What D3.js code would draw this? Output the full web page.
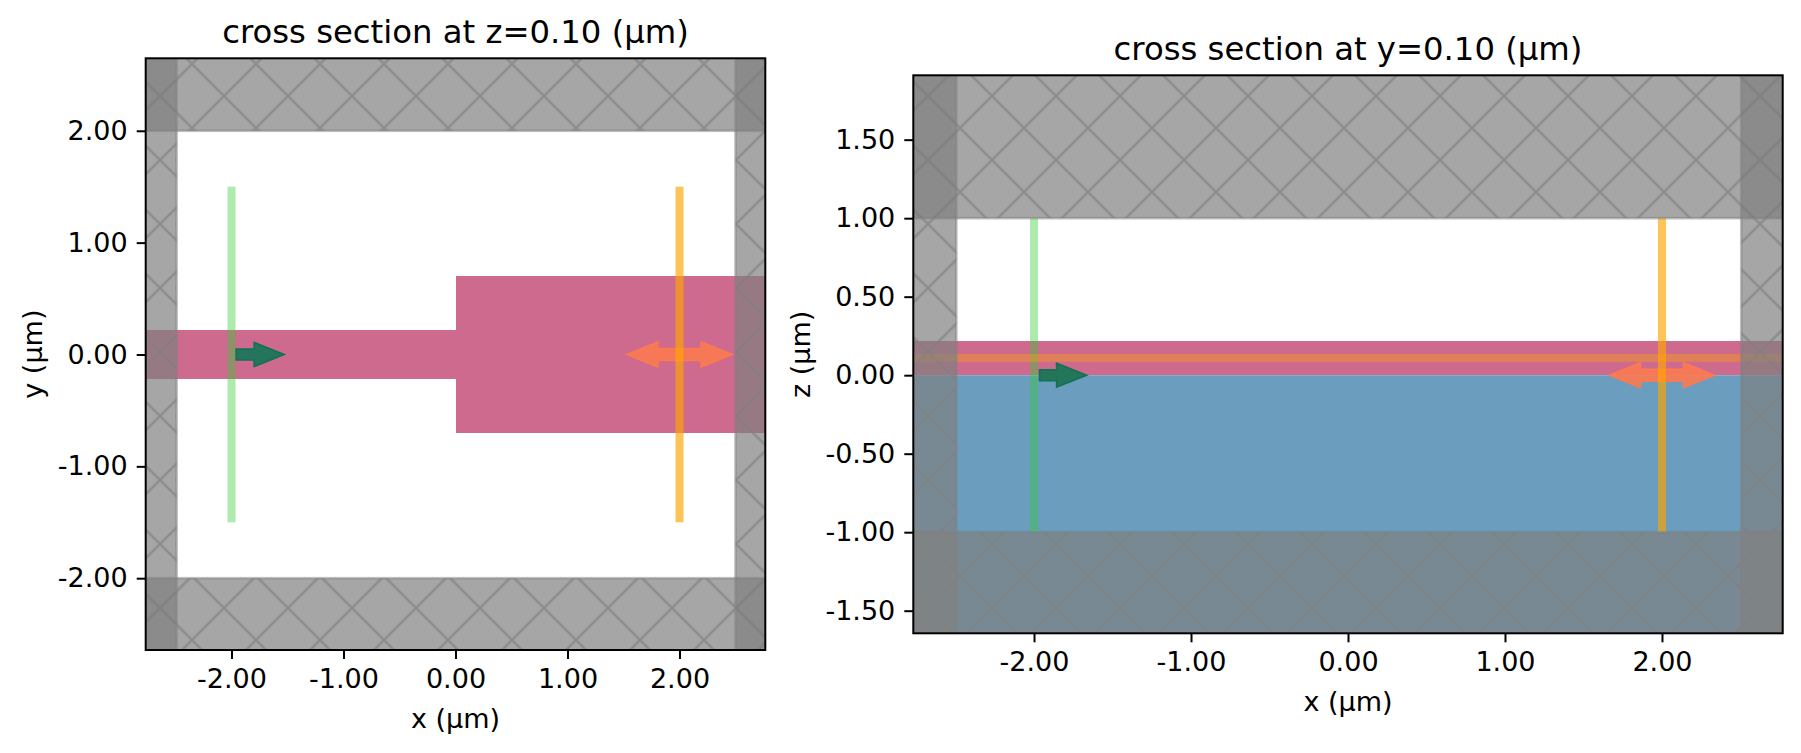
<!DOCTYPE html>
<html><head><meta charset="utf-8">
<script src="https://cdn.jsdelivr.net/npm/d3@7"></script>
<style>html,body{margin:0;padding:0;background:#fff;overflow:hidden}svg{display:block}text{font-family:"DejaVu Sans";fill:#000}</style>
</head><body><svg id="c" width="1801" height="753"></svg>
<script>
// ---- data (micrometres) ----
const xTicks = [-2, -1, 0, 1, 2];
const yTicksLeft = [-2, -1, 0, 1, 2];
const zTicksRight = [-1.5, -1, -0.5, 0, 0.5, 1, 1.5];
const titles = ["cross section at z=0.10 (µm)", "cross section at y=0.10 (µm)"];
const xLabels = ["x (µm)", "x (µm)"];
const yLabels = ["y (µm)", "z (µm)"];
const limitsX = [[-2.766, 2.766], [-2.769, 2.769]];
const limitsY = [[-2.642, 2.648], [-1.644, 1.91]];
// [x0, x1, y0, y1]
const waveguideLeft = [[-4, 0, -0.22, 0.22], [0, 4, -0.7, 0.7]];
const waveguideRight = [[-4, 4, 0, 0.22]];
const substrateRight = [[-4, 4, -4, 0]];
const pmlLeft = [[-4, -2.49, -4, 4], [2.5, 4, -4, 4], [-4, 4, 2, 4], [-4, 4, -4, -2]];
const pmlRight = [[-4, -2.495, -4, 4], [2.505, 4, -4, 4], [-4, 4, 1, 4], [-4, 4, -4, -1]];
const sourceLeft = [[-2, -2, -1.5, 1.5]];
const sourceRight = [[-2, -2, -1, 1]];
const monitorLeft = [[2, 2, -1.5, 1.5]];
const monitorRight = [[2, 2, -1, 1]];
const monitorPlaneRight = [[-4, 4, 0.11, 0.11]];
// [start, tip, y]
const sourceArrowLeft = [[-1.96, -1.53, 0]];
const sourceArrowRight = [[-1.965, -1.665, 0]];
const portArrowsLeft = [[2, 1.53, 0], [2, 2.47, 0]];
const portArrowsRight = [[2, 1.665, 0], [2, 2.335, 0]];

// ---- drawing ----
const svg = d3.select("#c");
const defs = svg.append("defs");
const hatch = defs.append("pattern").attr("id", "hatch").attr("patternUnits", "userSpaceOnUse")
  .attr("width", 64).attr("height", 64);
hatch.append("path").attr("d", "M-4,-4L68,68M-4,68L68,-4").attr("stroke", "#808080")
  .attr("stroke-opacity", 0.6).attr("stroke-width", 2.7).attr("fill", "none");

const panels = [
  {box: [145.7, 765.3, 58.3, 650], yTicks: yTicksLeft, wg: waveguideLeft, sub: [], pml: pmlLeft,
   src: sourceLeft, mon: monitorLeft, plane: [], sa: sourceArrowLeft, pa: portArrowsLeft, ylx: 33},
  {box: [913.3, 1782.7, 75.3, 633.3], yTicks: zTicksRight, wg: waveguideRight, sub: substrateRight, pml: pmlRight,
   src: sourceRight, mon: monitorRight, plane: monitorPlaneRight, sa: sourceArrowRight, pa: portArrowsRight, ylx: 801}
];

panels.forEach((p, i) => {
  const [l, r, t, b] = p.box;
  const x = d3.scaleLinear().domain(limitsX[i]).range([l, r]);
  const y = d3.scaleLinear().domain(limitsY[i]).range([b, t]);
  defs.append("clipPath").attr("id", "clip" + i).append("rect")
    .attr("x", l).attr("y", t).attr("width", r - l).attr("height", b - t);
  const g = svg.append("g").attr("clip-path", `url(#clip${i})`);
  const rects = (data, fill, op) => g.append("g").selectAll("rect").data(data).join("rect")
    .attr("x", d => x(d[0])).attr("width", d => x(d[1]) - x(d[0]))
    .attr("y", d => y(d[3])).attr("height", d => y(d[2]) - y(d[3]))
    .attr("fill", fill).attr("fill-opacity", op);
  const bars = (data, color, op) => g.append("g").selectAll("rect").data(data).join("rect")
    .attr("x", d => d[0] === d[1] ? x(d[0]) - 4 : x(d[0]))
    .attr("width", d => d[0] === d[1] ? 8 : x(d[1]) - x(d[0]))
    .attr("y", d => d[2] === d[3] ? y(d[2]) - 4 : y(d[3]))
    .attr("height", d => d[2] === d[3] ? 8 : y(d[2]) - y(d[3]))
    .attr("fill", color).attr("fill-opacity", op);
  const arrows = (data, fill, stroke, op, hw, sw, hl) => g.append("g").selectAll("path").data(data).join("path")
    .attr("d", d => {
      const s = x(d[0]), e = x(d[1]), c = y(d[2]), dir = Math.sign(e - s), hb = e - dir * hl;
      return `M${s},${c - sw}L${hb},${c - sw}L${hb},${c - hw}L${e},${c}L${hb},${c + hw}L${hb},${c + sw}L${s},${c + sw}Z`;
    }).attr("fill", fill).attr("fill-opacity", op).attr("stroke", stroke).attr("stroke-width", 1.6);

  rects(p.sub, "#6a9dbe", 1);
  rects(p.wg, "#ce6a8e", 1).attr("shape-rendering", "crispEdges");
  arrows(p.sa, "#24755a", "#0f7255", 1, 12, 5.5, 30);
  arrows(p.pa, "#fb7a52", "#fb7a52", 0.92, 12.5, 6, 31);
  bars(p.src, "#32cd32", 0.4);
  bars(p.mon, "#ffa500", 0.66);
  bars(p.plane, "#ffa500", 0.37);
  rects(p.pml, "#808080", 0.7).attr("stroke", "#808080").attr("stroke-opacity", 0.5).attr("stroke-width", 2.6);
  rects(p.pml, "url(#hatch)", 1);

  const fmt = d3.format(".2f");
  const style = a => {
    a.select(".domain").remove();
    a.selectAll("line").attr("stroke", "#000").attr("stroke-width", 2);
    a.selectAll("text").attr("font-size", 27).attr("font-family", "DejaVu Sans").attr("fill", "#000");
  };
  const ax = svg.append("g").attr("transform", `translate(0,${b})`)
    .call(d3.axisBottom(x).tickValues(xTicks).tickFormat(fmt).tickSize(9).tickPadding(10).tickSizeOuter(0));
  style(ax);
  const ay = svg.append("g").attr("transform", `translate(${l},0)`)
    .call(d3.axisLeft(y).tickValues(p.yTicks).tickFormat(fmt).tickSize(9).tickPadding(9).tickSizeOuter(0));
  style(ay);
  svg.selectAll("text").text(function () { return this.textContent.replace("−", "-"); });

  svg.append("rect").attr("x", l).attr("y", t).attr("width", r - l).attr("height", b - t)
    .attr("fill", "none").attr("stroke", "#000").attr("stroke-width", 2);

  const cx = (l + r) / 2, cy = (t + b) / 2;
  svg.append("text").attr("x", cx).attr("y", t - 15.5).attr("text-anchor", "middle").attr("font-size", 32.3).text(titles[i]);
  svg.append("text").attr("x", cx).attr("y", b + 78).attr("text-anchor", "middle").attr("font-size", 27).text(xLabels[i]);
  svg.append("text").attr("transform", `translate(${p.ylx},${cy}) rotate(-90)`).attr("text-anchor", "middle")
    .attr("dy", "0.35em").attr("font-size", 27).text(yLabels[i]);
});
</script></body></html>
